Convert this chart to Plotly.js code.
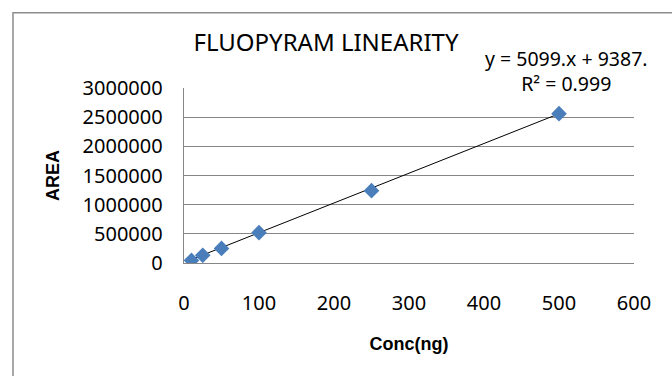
<!DOCTYPE html>
<html>
<head>
<meta charset="utf-8">
<script src="https://cdn.plot.ly/plotly-3.0.1.min.js"></script>
<style>
  html, body { margin: 0; padding: 0; background: #ffffff; }
  #chart { width: 672px; height: 376px; }
</style>
</head>
<body>
<div id="chart"></div>
<script>
// Data
const concNg = [10, 25, 50, 100, 250, 500];
const areaValues = [45000, 132000, 250000, 520000, 1240000, 2560000];

// Linear trendline as printed on the chart
const trendSlope = [5099];
const trendIntercept = [9387];
const trendX = [10, 500];
const trendY = trendX.map(x => trendSlope[0] * x + trendIntercept[0]);

const xTickVals = [0, 100, 200, 300, 400, 500, 600];
const yTickVals = [0, 500000, 1000000, 1500000, 2000000, 2500000, 3000000];
const yTickText = ['0', '500000', '1000000', '1500000', '2000000', '2500000', '3000000'];

const titleText = 'FLUOPYRAM LINEARITY';
const xTitle = 'Conc(ng)';
const yTitle = 'AREA';
const eqText = 'y = 5099.x + 9387.';
const r2Text = 'R\u00B2 = 0.999';

const tickFont = { family: 'Noto Sans, DejaVu Sans, sans-serif', size: 20, color: '#000000' };

const traces = [
  {
    x: trendX, y: trendY, type: 'scatter', mode: 'lines',
    line: { color: '#000000', width: 1 }, hoverinfo: 'skip', showlegend: false
  },
  {
    x: concNg, y: areaValues, type: 'scatter', mode: 'markers',
    marker: { symbol: 'diamond', size: 12, color: '#4a7ebb', line: { width: 0 } },
    showlegend: false
  }
];

const layout = {
  width: 672, height: 376,
  margin: { l: 184, r: 38, t: 88, b: 113 },
  paper_bgcolor: '#ffffff', plot_bgcolor: '#ffffff',
  showlegend: false,
  title: {
    text: titleText,
    font: { family: 'Noto Sans, sans-serif', size: 24, color: '#000000' },
    x: 326 / 672, xanchor: 'center', xref: 'container',
    y: 1 - 43 / 376, yanchor: 'middle', yref: 'container'
  },
  xaxis: {
    range: [0, 600], tickvals: xTickVals, ticktext: xTickVals.map(String),
    tickfont: tickFont, showgrid: false, zeroline: false,
    showline: true, linecolor: '#868686', linewidth: 1.3,
    ticks: '', ticklabelstandoff: 22,
    title: { text: xTitle, font: { family: 'Liberation Sans, Arial, sans-serif', size: 18, color: '#000000', weight: 'bold' }, standoff: 22 }
  },
  yaxis: {
    range: [0, 3000000], tickvals: yTickVals, ticktext: yTickText,
    tickfont: tickFont, showgrid: true, gridcolor: '#868686', gridwidth: 1.3,
    zeroline: false, showline: true, linecolor: '#868686', linewidth: 1.3,
    ticks: '', ticklabelstandoff: 16,
    title: { text: yTitle, font: { family: 'Liberation Sans, Arial, sans-serif', size: 18, color: '#000000', weight: 'bold' }, standoff: 18 }
  },
  annotations: [
    {
      text: eqText + '<br>' + r2Text, xref: 'paper', yref: 'paper',
      x: (566 - 184) / 450, y: (263.4 - 71.5) / 175.1,
      xanchor: 'center', yanchor: 'middle', align: 'center', showarrow: false,
      font: { family: 'Noto Sans, sans-serif', size: 19.5, color: '#000000' }
    }
  ],
  shapes: [
    {
      type: 'rect', xref: 'paper', yref: 'paper',
      x0: (13 - 184) / 450, x1: (700 - 184) / 450,
      y0: (263.4 - 400) / 175.1, y1: (263.4 - 13) / 175.1,
      line: { color: '#8c8c8c', width: 1.5 }, fillcolor: 'rgba(0,0,0,0)', layer: 'below'
    }
  ]
};

Plotly.newPlot('chart', traces, layout, { displayModeBar: false, staticPlot: true });
</script>
</body>
</html>
